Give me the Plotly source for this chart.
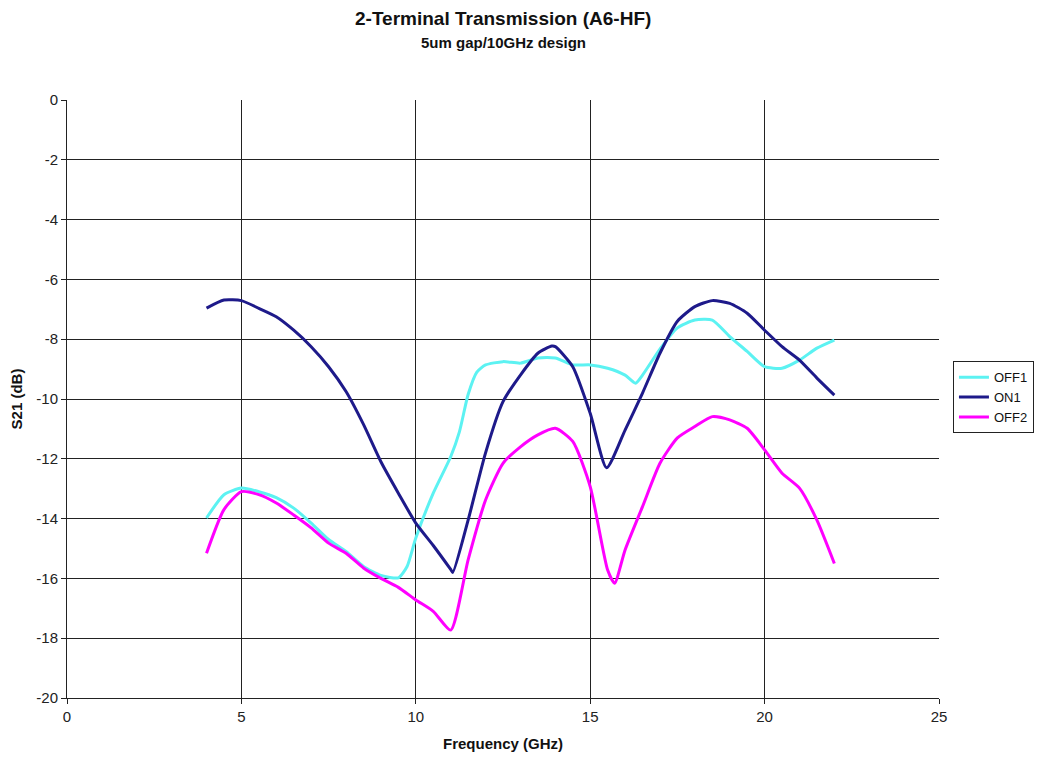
import plotly.graph_objects as go

freq_on1 = [4, 4.5, 5, 5.5, 6, 6.5, 7, 7.5, 8, 8.5, 9, 9.5, 10, 10.5, 11, 11.06, 11.5, 12, 12.5, 13, 13.5, 13.9, 14, 14.5, 15, 15.47, 16, 16.5, 17, 17.5, 18, 18.5, 19, 19.5, 20, 20.5, 21, 21.5, 22]
on1 = [-6.96, -6.69, -6.71, -6.97, -7.25, -7.7, -8.25, -8.92, -9.75, -10.85, -12.1, -13.15, -14.15, -14.9, -15.7, -15.8, -14.05, -11.8, -10.09, -9.2, -8.47, -8.23, -8.25, -8.92, -10.48, -12.3, -11.04, -9.8, -8.47, -7.4, -6.91, -6.71, -6.8, -7.13, -7.7, -8.25, -8.7, -9.3, -9.87]

freq_off1 = [4, 4.5, 5, 5.5, 6, 6.5, 7, 7.5, 8, 8.5, 9, 9.5, 9.75, 10, 10.5, 11, 11.25, 11.5, 11.75, 12, 12.5, 13, 13.5, 14, 14.5, 15, 15.5, 16, 16.3, 16.5, 17, 17.5, 18, 18.5, 19, 19.5, 20, 20.5, 21, 21.5, 22]
off1 = [-13.98, -13.2, -12.98, -13.1, -13.3, -13.65, -14.15, -14.7, -15.1, -15.6, -15.9, -15.98, -15.6, -14.65, -13.15, -11.93, -11.1, -9.85, -9.1, -8.86, -8.75, -8.8, -8.63, -8.63, -8.86, -8.86, -8.97, -9.2, -9.47, -9.2, -8.33, -7.62, -7.36, -7.36, -7.91, -8.41, -8.92, -8.97, -8.7, -8.3, -8.03]

freq_off2 = [4, 4.5, 5, 5.5, 6, 6.5, 7, 7.5, 8, 8.5, 9, 9.5, 10, 10.5, 11, 11.5, 12, 12.5, 13, 13.5, 14, 14.5, 15, 15.5, 15.7, 16, 16.5, 17, 17.5, 18, 18.5, 19, 19.5, 20, 20.5, 21, 21.5, 22]
off2 = [-15.16, -13.7, -13.1, -13.2, -13.48, -13.88, -14.31, -14.82, -15.16, -15.65, -16.0, -16.3, -16.72, -17.1, -17.73, -15.38, -13.38, -12.15, -11.6, -11.2, -10.98, -11.42, -12.93, -15.72, -16.16, -15.05, -13.6, -12.15, -11.3, -10.92, -10.59, -10.7, -10.98, -11.7, -12.48, -12.98, -14.05, -15.5]

x_ticks = [0, 5, 10, 15, 20, 25]
x_labels = ["0", "5", "10", "15", "20", "25"]
y_ticks = [0, -2, -4, -6, -8, -10, -12, -14, -16, -18, -20]
y_labels = ["0", "-2", "-4", "-6", "-8", "-10", "-12", "-14", "-16", "-18", "-20"]

title_text = "2-Terminal Transmission (A6-HF)"
subtitle_text = "5um gap/10GHz design"

fig = go.Figure()
fig.add_trace(go.Scatter(x=freq_off1, y=off1, name="OFF1", mode="lines",
                         line=dict(color="#5CF2F2", width=3, shape="spline", smoothing=0.6)))
fig.add_trace(go.Scatter(x=freq_on1, y=on1, name="ON1", mode="lines",
                         line=dict(color="#1E1A8A", width=3, shape="spline", smoothing=0.6)))
fig.add_trace(go.Scatter(x=freq_off2, y=off2, name="OFF2", mode="lines",
                         line=dict(color="#FF00FF", width=3, shape="spline", smoothing=0.6)))

font_family = "Liberation Sans, Arial, sans-serif"
# the page body has an 8px default margin, so the figure is 8px smaller and margins are shifted
fig.update_layout(
    width=1034, height=755,
    margin=dict(l=59, r=103, t=92, b=65, autoexpand=False),
    paper_bgcolor="white", plot_bgcolor="white",
    font=dict(family=font_family, size=15, color="#222222"),
    showlegend=True,
    legend=dict(x=1.016, xanchor="left", y=0.503, yanchor="middle",
                bordercolor="#222222", borderwidth=1, bgcolor="white",
                font=dict(size=13, color="#111111"), tracegroupgap=0,
                itemwidth=30),
    annotations=[
        dict(text="<b>" + title_text + "</b>", x=0.5, y=1 + 82 / 598, xref="paper", yref="paper",
             xanchor="center", yanchor="middle", showarrow=False,
             font=dict(size=19, color="#111111")),
        dict(text="<b>" + subtitle_text + "</b>", x=0.5, y=1 + 58 / 598, xref="paper", yref="paper",
             xanchor="center", yanchor="middle", showarrow=False,
             font=dict(size=15, color="#111111")),
    ],
)
fig.update_xaxes(range=[0, 25], tickvals=x_ticks, ticktext=x_labels, showgrid=True,
                 gridcolor="#222222", gridwidth=1, automargin=False,
                 showline=True, linecolor="#222222", linewidth=1, ticks="outside", ticklen=5,
                 tickcolor="#222222", zeroline=False,
                 title=dict(text="<b>Frequency (GHz)</b>", font=dict(size=15, color="#111111"), standoff=14))
fig.update_yaxes(range=[-20, 0], tickvals=y_ticks, ticktext=y_labels, showgrid=True,
                 gridcolor="#222222", gridwidth=1, automargin=False,
                 showline=True, linecolor="#222222", linewidth=1, ticks="outside", ticklen=5,
                 tickcolor="#222222", zeroline=False,
                 title=dict(text="<b>S21 (dB)</b>", font=dict(size=15, color="#111111"), standoff=10))

fig.write_html("out.html")
